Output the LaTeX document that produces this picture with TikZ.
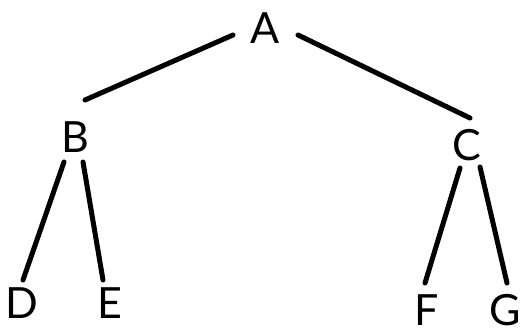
\documentclass[tikz,border=0pt]{standalone}
\usepackage{fontspec}
\setmainfont{Lato}
\begin{document}
\begin{tikzpicture}[x=1pt,y=-1pt,
  lbl/.style={inner sep=0pt,font=\fontsize{43}{44}\selectfont},
  edge/.style={line width=5pt,line cap=round}]
\useasboundingbox (0,0) rectangle (521,330);
\node[lbl] (A) at (265,28) {A};
\node[lbl] (B) at (75,137) {B};
\node[lbl] (C) at (467,145) {C};
\node[lbl] (D) at (22,303) {D};
\node[lbl] (E) at (110,303) {E};
\node[lbl] (F) at (427,310) {F};
\node[lbl] (G) at (505,310) {G};
\draw[edge] ([shift={(-32,7)}]A.center) -- ([shift={(10,-37)}]B.center);
\draw[edge] ([shift={(33,7)}]A.center) -- ([shift={(3,-27)}]C.center);
\draw[edge] ([shift={(-11,25)}]B.center) -- ([shift={(1,-23)}]D.center);
\draw[edge] ([shift={(8,25)}]B.center) -- ([shift={(-7,-23)}]E.center);
\draw[edge] ([shift={(-7,23)}]C.center) -- ([shift={(-2,-27)}]F.center);
\draw[edge] ([shift={(13,22)}]C.center) -- ([shift={(2,-27)}]G.center);
\end{tikzpicture}
\end{document}
